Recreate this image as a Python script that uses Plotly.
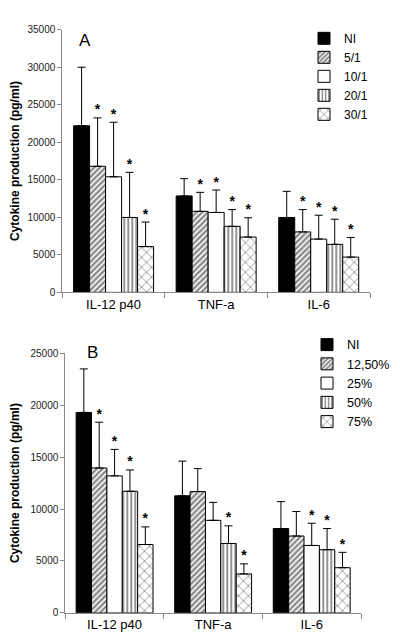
import plotly.graph_objects as go

categories = ["IL-12 p40", "TNF-a", "IL-6"]

# Panel A: ratio groups
series_a = ["NI", "5/1", "10/1", "20/1", "30/1"]
a_ni = [22200, 12850, 9980]
a_5 = [16800, 10800, 8060]
a_10 = [15400, 10650, 7100]
a_20 = [9980, 8800, 6400]
a_30 = [6100, 7370, 4700]
a_ni_sd = [7800, 2300, 3480]
a_5_sd = [6450, 2530, 2970]
a_10_sd = [7270, 2990, 3180]
a_20_sd = [6020, 2230, 3350]
a_30_sd = [3270, 2570, 2620]
a_ni_sig = [0, 0, 0]
a_5_sig = [1, 1, 1]
a_10_sig = [1, 1, 1]
a_20_sig = [1, 1, 1]
a_30_sig = [1, 1, 1]

# Panel B: percentage groups
series_b = ["NI", "12,50%", "25%", "50%", "75%"]
b_ni = [19300, 11270, 8120]
b_12 = [13950, 11680, 7400]
b_25 = [13190, 8910, 6490]
b_50 = [11710, 6680, 6080]
b_75 = [6580, 3750, 4350]
b_ni_sd = [4190, 3340, 2590]
b_12_sd = [4410, 2210, 2360]
b_25_sd = [2550, 1730, 2140]
b_50_sd = [2050, 1700, 2040]
b_75_sd = [1700, 970, 1480]
b_ni_sig = [0, 0, 0]
b_12_sig = [1, 0, 0]
b_25_sig = [1, 0, 1]
b_50_sig = [1, 1, 1]
b_75_sig = [1, 1, 1]

FONT = "Liberation Sans, Arial, sans-serif"

styles = [
    dict(color="black", pattern=None),
    dict(color="white", pattern=dict(shape="/", fgcolor="#111111", bgcolor="white", size=4, solidity=0.6)),
    dict(color="white", pattern=None),
    dict(color="white", pattern=dict(shape="|", fgcolor="black", bgcolor="white", size=4, solidity=0.42)),
    dict(color="white", pattern=dict(shape="x", fgcolor="black", bgcolor="white", size=7, solidity=0.2)),
]

fig = go.Figure()


def add_panel(names, vals, sds, sigs, xa, ya, legend):
    for i, (name, v, sd, sg) in enumerate(zip(names, vals, sds, sigs)):
        st = styles[i]
        marker = dict(color=st["color"], line=dict(color="black", width=1))
        if st["pattern"] is not None:
            marker["pattern"] = st["pattern"]
        fig.add_trace(go.Bar(
            x=categories, y=v, name=name, marker=marker,
            offsetgroup=str(i), xaxis=xa, yaxis=ya, legend=legend,
            error_y=dict(type="data", symmetric=False, array=sd,
                         arrayminus=[0] * len(sd), color="black",
                         thickness=1, width=4),
        ))
        tops = [a + b for a, b in zip(v, sd)]
        fig.add_trace(go.Scatter(
            x=categories, y=tops, mode="text",
            text=["<b>*</b>" if s else "" for s in sg],
            textposition="top center",
            textfont=dict(family=FONT, size=14, color="black"),
            offsetgroup=str(i), xaxis=xa, yaxis=ya,
            showlegend=False, hoverinfo="skip", cliponaxis=False,
        ))


add_panel(series_a, [a_ni, a_5, a_10, a_20, a_30],
          [a_ni_sd, a_5_sd, a_10_sd, a_20_sd, a_30_sd],
          [a_ni_sig, a_5_sig, a_10_sig, a_20_sig, a_30_sig],
          "x", "y", "legend")
add_panel(series_b, [b_ni, b_12, b_25, b_50, b_75],
          [b_ni_sd, b_12_sd, b_25_sd, b_50_sd, b_75_sd],
          [b_ni_sig, b_12_sig, b_25_sig, b_50_sig, b_75_sig],
          "x2", "y2", "legend2")

W, H = 400, 641


def px_x(p):
    return p / W


def px_y(p):
    return 1 - p / H


xcommon = dict(type="category", showline=True, linecolor="#888888", linewidth=1,
               ticks="outside", tickson="boundaries", ticklen=5, tickcolor="#888888",
               showgrid=False, tickfont=dict(family=FONT, size=13, color="black"))
ycommon = dict(showline=True, linecolor="#888888", linewidth=1, ticks="outside",
               ticklen=4, tickcolor="#888888", showgrid=False, zeroline=False,
               tickformat="d",
               tickfont=dict(family=FONT, size=10, color="#222222"),
               title=dict(text="<b>Cytokine production (pg/ml)</b>",
                          font=dict(family=FONT, size=12, color="black"), standoff=8))

fig.update_layout(
    width=W, height=H,
    margin=dict(l=0, r=0, t=0, b=0),
    paper_bgcolor="white", plot_bgcolor="white",
    barmode="group", bargap=0.22, bargroupgap=0,
    scattermode="group", scattergap=0.22,
    font=dict(family=FONT, color="black"),
    xaxis=dict(xcommon, domain=[px_x(54.3), px_x(362)], anchor="y"),
    yaxis=dict(ycommon, domain=[px_y(283.7), px_y(16)], range=[0, 35000], dtick=5000, anchor="x"),
    xaxis2=dict(xcommon, domain=[px_x(57.3), px_x(353)], anchor="y2"),
    yaxis2=dict(ycommon, domain=[px_y(610.3), px_y(345.7)], range=[0, 25000], dtick=5000, anchor="x2"),
    legend=dict(x=px_x(296), y=px_y(10), xanchor="left", yanchor="top",
                font=dict(family=FONT, size=12, color="black"), bgcolor="rgba(0,0,0,0)",
                itemwidth=30, traceorder="normal"),
    legend2=dict(x=px_x(299), y=px_y(322), xanchor="left", yanchor="top",
                 font=dict(family=FONT, size=12.5, color="black"), bgcolor="rgba(0,0,0,0)",
                 itemwidth=30, traceorder="normal"),
    annotations=[
        dict(text="A", x=px_x(69), y=px_y(15), xref="paper", yref="paper",
             showarrow=False, font=dict(family=FONT, size=17, color="black")),
        dict(text="B", x=px_x(77), y=px_y(345), xref="paper", yref="paper",
             showarrow=False, font=dict(family=FONT, size=17, color="black")),
    ],
)

fig.write_html("out.html")
